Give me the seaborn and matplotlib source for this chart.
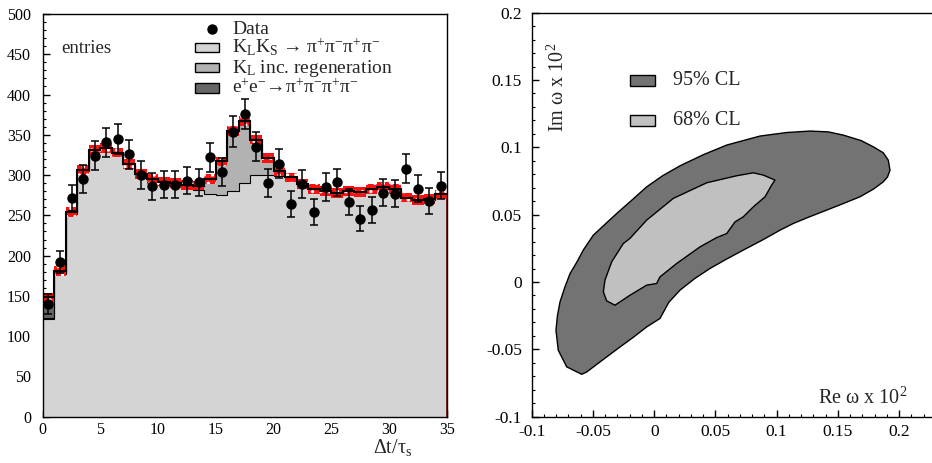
import numpy as np
import pandas as pd
import matplotlib
matplotlib.use('Agg')
import matplotlib.pyplot as plt
from matplotlib.patches import Rectangle
from matplotlib.ticker import MultipleLocator, FixedLocator
import seaborn as sns

# ---- left panel: delta t / tau_s, 35 bins of width 1
bin_edges = np.arange(0, 36)
klks = [121, 177, 252, 305, 330, 333, 327, 313, 300, 293, 290, 287, 284, 281, 276,
        275, 280, 290, 300, 300, 299, 294, 287, 281, 279, 277, 279, 278, 282, 284,
        282, 271, 268, 269, 275]
regen = [1, 1, 1, 1, 1, 1, 1, 1, 1, 2, 2, 3, 4, 6, 19,
         42, 75, 77, 44, 21, 6, 3, 2, 2, 1, 1, 1, 1, 1, 1,
         1, 1, 1, 1, 1]
eepipi = [26, 3, 1, 0, 0, 0, 0, 0, 0, 0, 0, 0, 0, 0, 0,
          0, 0, 0, 0, 0, 0, 0, 0, 0, 0, 0, 0, 0, 0, 0,
          0, 0, 0, 0, 0]
mc_err = 6
data_y = [140, 192, 272, 295, 324, 341, 345, 326, 300, 286, 288, 288, 293, 291, 322,
          304, 354, 376, 335, 290, 314, 264, 289, 254, 285, 291, 267, 246, 257, 278,
          277, 308, 283, 268, 287]
data_err = [12, 14, 16, 17, 18, 18, 19, 18, 17, 17, 17, 17, 17, 17, 18,
            17, 19, 19, 18, 17, 18, 16, 17, 16, 17, 17, 16, 16, 16, 17,
            17, 18, 17, 16, 17]
comp_labels = [r'K$_{\rm L}$K$_{\rm S}$ → π$^{+}$π$^{-}$π$^{+}$π$^{-}$',
               r'K$_{\rm L}$ inc. regeneration',
               r'e$^{+}$e$^{-}$→π$^{+}$π$^{-}$π$^{+}$π$^{-}$']
comp_colors = ['#d4d4d4', '#b2b2b2', '#666666']

# ---- right panel: CL contours in (Re w, Im w) x 10^2
cl95_re = [-0.0592, -0.0714, -0.0783, -0.0802, -0.0790, -0.0769, -0.0730, -0.0687,
           -0.0630, -0.0579, -0.0497, -0.0400, -0.0306, -0.0180, -0.0061, 0.0070,
           0.0211, 0.0400, 0.0592, 0.0864, 0.1080, 0.1272, 0.1420, 0.1544, 0.1690,
           0.1789, 0.1870, 0.1911, 0.1925, 0.1905, 0.1870, 0.1790, 0.1680, 0.1550,
           0.1408, 0.1270, 0.1136, 0.1027, 0.0880, 0.0727, 0.0590, 0.0456, 0.0330,
           0.0211, 0.0120, 0.0047, -0.0061, -0.0170, -0.0279, -0.0442, -0.0551]
cl95_im = [-0.0685, -0.0630, -0.0507, -0.0358, -0.0250, -0.0148, -0.0040, 0.0063,
           0.0150, 0.0237, 0.0348, 0.0430, 0.0509, 0.0610, 0.0707, 0.0790,
           0.0863, 0.0945, 0.1017, 0.1084, 0.1110, 0.1121, 0.1115, 0.1091, 0.1050,
           0.1004, 0.0960, 0.0905, 0.0831, 0.0780, 0.0744, 0.0690, 0.0633, 0.0585,
           0.0534, 0.0485, 0.0435, 0.0385, 0.0310, 0.0237, 0.0170, 0.0101, 0.0025,
           -0.0060, -0.0150, -0.0271, -0.0333, -0.0410, -0.0482, -0.0593, -0.0668]
cl68_re = [-0.0320, -0.0388, -0.0415, -0.0402, -0.0347, -0.0252, -0.0198, -0.0061,
           0.0156, 0.0429, 0.0673, 0.0809, 0.0891, 0.0986, 0.0959, 0.0905, 0.0809,
           0.0727, 0.0660, 0.0592, 0.0510, 0.0374, 0.0184, 0.0047, 0.0020, -0.0061,
           -0.0198]
cl68_im = [-0.0172, -0.0140, -0.0073, 0.0014, 0.0150, 0.0286, 0.0324, 0.0460,
           0.0621, 0.0737, 0.0789, 0.0811, 0.0794, 0.0757, 0.0720, 0.0633, 0.0558,
           0.0484, 0.0447, 0.0360, 0.0330, 0.0261, 0.0138, 0.0038, -0.0011, -0.0023,
           -0.0098]
cl_labels = ['95% CL', '68% CL']
cl_colors = ['#737373', '#c0c0c0']
re_ticks = [-0.1, -0.05, 0, 0.05, 0.1, 0.15, 0.2]
re_ticklabels = ['-0.1', '-0.05', '0', '0.05', '0.1', '0.15', '0.2']
im_ticks = [-0.1, -0.05, 0, 0.05, 0.1, 0.15, 0.2]
im_ticklabels = ['-0.1', '-0.05', '0', '0.05', '0.1', '0.15', '0.2']

sns.set_theme(style='ticks')
plt.rcParams['font.family'] = ['Liberation Serif', 'DejaVu Serif']
plt.rcParams['mathtext.fontset'] = 'custom'
plt.rcParams['mathtext.rm'] = 'Liberation Serif'
plt.rcParams['mathtext.it'] = 'Liberation Serif:italic'
plt.rcParams['hatch.linewidth'] = 1.2
plt.rcParams['axes.edgecolor'] = 'black'
plt.rcParams['axes.linewidth'] = 1.0

fig = plt.figure(figsize=(9.32, 4.63), dpi=100)
ax1 = fig.add_axes([0.0458, 0.100, 0.4335, 0.8698])
ax2 = fig.add_axes([0.5705, 0.100, 0.4295, 0.8726])

# stacked MC components via seaborn
centers = bin_edges[:-1] + 0.5
comp_names = ['klks', 'regen', 'ee']
df = pd.DataFrame({
    'dt': np.tile(centers, 3),
    'n': np.concatenate([klks, regen, eepipi]).astype(float),
    'comp': np.repeat(comp_names, len(centers)),
})
sns.histplot(data=df, x='dt', weights='n', hue='comp', hue_order=['ee', 'regen', 'klks'],
             binwidth=1, binrange=(0, 35), multiple='stack', element='step', fill=True,
             alpha=1, palette=dict(zip(comp_names, comp_colors)), linewidth=0,
             legend=False, ax=ax1)

klks_a = np.array(klks, float)
total = klks_a + np.array(regen) + np.array(eepipi)
ax1.stairs(klks_a, bin_edges, baseline=None, color='black', lw=0.8)
ax1.stairs(klks_a + np.array(regen), bin_edges, baseline=None, color='black', lw=0.8)
ax1.stairs(total, bin_edges, baseline=0, color='#8b0000', lw=1.2)
# MC error band: red with white dashes
ax1.stairs(total + mc_err, bin_edges, baseline=total - mc_err, fill=True,
           facecolor='#ff1010', edgecolor='none', lw=0)
ax1.stairs(total + mc_err, bin_edges, baseline=total - mc_err, fill=True,
           facecolor='none', edgecolor='white', hatch='..', lw=0)
ax1.stairs(total, bin_edges, baseline=None, color='black', lw=1.5)
ax1.errorbar(centers, data_y, yerr=data_err, fmt='o', color='black', ms=6.5,
             elinewidth=1.1, capsize=3, capthick=1.1, zorder=5)

ax1.set_xlim(0, 35)
ax1.set_ylim(0, 500)
ax1.set_xlabel('')
ax1.set_ylabel('')
ax1.xaxis.set_major_locator(MultipleLocator(5))
ax1.xaxis.set_minor_locator(MultipleLocator(1))
ax1.yaxis.set_major_locator(MultipleLocator(50))
ax1.yaxis.set_minor_locator(MultipleLocator(10))
ax1.tick_params(which='both', direction='in', top=False, right=False, labelsize=11.5,
                colors='black')
ax1.tick_params(which='major', length=5, width=1)
ax1.tick_params(which='minor', length=2.5, width=0.8)
ax1.tick_params(axis='y', pad=8.5)
ax1.tick_params(axis='x', pad=4)
for s in ax1.spines.values():
    s.set_visible(True)
    s.set_color('black')

ax1.text(0.045, 0.904, 'entries', transform=ax1.transAxes, fontsize=13.5)
ax1.text(0.817, -0.0894, r'Δt/τ$_{\rm s}$', transform=ax1.transAxes, fontsize=14.5,
         clip_on=False)

# legend drawn by hand to follow the original spacing
ax1.plot([0.419], [0.963], 'o', color='black', ms=6.5, transform=ax1.transAxes)
ax1.text(0.4686, 0.95, 'Data', transform=ax1.transAxes, fontsize=14, va='baseline')
for i, (lab, col) in enumerate(zip(comp_labels, comp_colors)):
    yc = 0.9156 - i * 0.0497
    ax1.add_patch(Rectangle((0.377, yc - 0.0112), 0.06, 0.0224, transform=ax1.transAxes,
                            facecolor=col, edgecolor='black', lw=1, zorder=6))
    ax1.text(0.4686, yc - 0.013, lab, transform=ax1.transAxes, fontsize=14, va='baseline')

# right panel
for xs, ys, col in [(cl95_re, cl95_im, cl_colors[0]), (cl68_re, cl68_im, cl_colors[1])]:
    ax2.fill(xs, ys, facecolor=col, edgecolor='black', lw=1)
ax2.set_xlim(-0.1, 0.2268)
ax2.set_ylim(-0.1, 0.2)
ax2.xaxis.set_major_locator(FixedLocator(re_ticks))
ax2.set_xticklabels(re_ticklabels)
ax2.yaxis.set_major_locator(FixedLocator(im_ticks))
ax2.set_yticklabels(im_ticklabels)
ax2.xaxis.set_minor_locator(MultipleLocator(0.01))
ax2.yaxis.set_minor_locator(MultipleLocator(0.01))
ax2.tick_params(which='both', direction='in', top=False, right=False, labelsize=12.5,
                colors='black')
ax2.tick_params(which='major', length=5, width=1)
ax2.tick_params(which='minor', length=2.5, width=0.8)
ax2.tick_params(axis='y', pad=7)
ax2.tick_params(axis='x', pad=5)
ax2.spines['right'].set_visible(False)
for s in ['top', 'left', 'bottom']:
    ax2.spines[s].set_color('black')

for i, (lab, col) in enumerate(zip(cl_labels, cl_colors)):
    yc = 0.8325 - i * 0.0995
    ax2.add_patch(Rectangle((0.2456, yc - 0.0133), 0.0624, 0.0265, transform=ax2.transAxes,
                            facecolor=col, edgecolor='black', lw=1))
    ax2.text(0.353, yc - 0.0115, lab, transform=ax2.transAxes, fontsize=14.5, va='baseline')

ax2.text(0.9376, 0.0307, r'Re ω x 10$^{2}$', transform=ax2.transAxes, fontsize=14.5,
         ha='right', va='baseline')
ax2.text(0.0657, 0.925, r'Im ω x 10$^{2}$', transform=ax2.transAxes, fontsize=14.5,
         rotation=90, ha='center', va='top')

fig.savefig('out.png', dpi=100)
